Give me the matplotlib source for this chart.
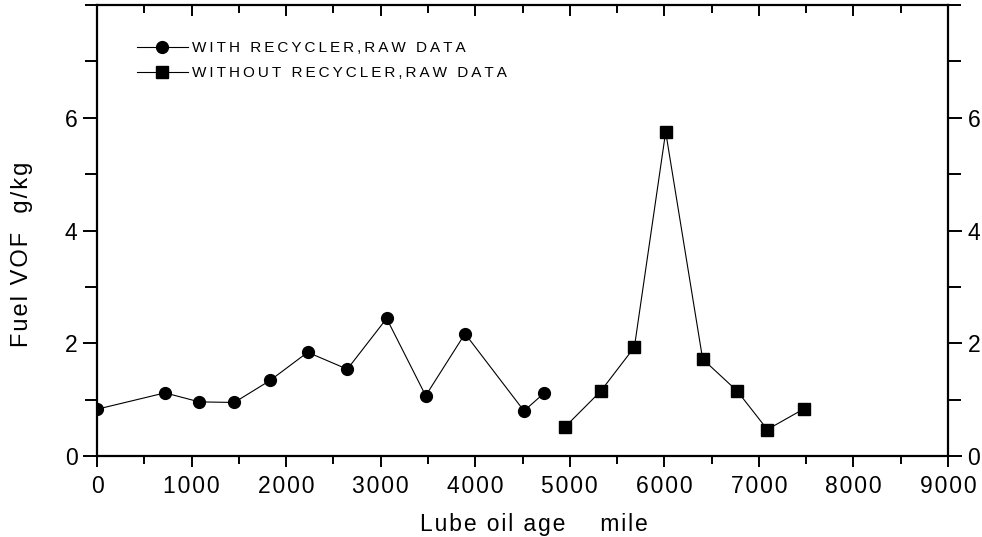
import matplotlib
matplotlib.use("Agg")
import matplotlib.pyplot as plt
from matplotlib.ticker import MultipleLocator, FuncFormatter

plt.rcParams['font.family'] = ['Liberation Sans', 'DejaVu Sans']

with_x = [0, 719, 1082, 1452, 1830, 2228, 2647, 3063, 3476, 3892, 4516, 4731]
with_y = [0.83, 1.12, 0.96, 0.95, 1.34, 1.84, 1.54, 2.44, 1.07, 2.17, 0.80, 1.12]
without_x = [4946, 5327, 5683, 6014, 6405, 6772, 7089, 7480]
without_y = [0.51, 1.15, 1.93, 5.75, 1.72, 1.15, 0.47, 0.84]
with_label = "WITH RECYCLER,RAW DATA"
without_label = "WITHOUT RECYCLER,RAW DATA"
x_ticks = [0, 1000, 2000, 3000, 4000, 5000, 6000, 7000, 8000, 9000]
y_ticks = [0, 2, 4, 6]
x_title = "Lube oil age    mile"
y_title = "Fuel VOF  g/kg"

HAIR = "\u200a"
THIN = "\u2009"


def spaced(s, sp):
    return sp.join(s)


fig = plt.figure(figsize=(9.82, 5.37), dpi=100)
ax = fig.add_axes([0.0988, 0.1508, 0.9654 - 0.0988, 0.9907 - 0.1508])

ax.plot(with_x, with_y, color='black', lw=0.8, marker='o', ms=8.5,
        markerfacecolor='black', markeredgecolor='black',
        label=spaced(with_label, THIN))
ax.plot(without_x, without_y, color='black', lw=0.8, marker='s', ms=8,
        markerfacecolor='black', markeredgecolor='black',
        label=spaced(without_label, THIN))

ax.set_xlim(0, 9000)
ax.set_ylim(0, 8)
ax.set_xticks(x_ticks)
ax.set_yticks(y_ticks)
ax.xaxis.set_major_formatter(FuncFormatter(lambda v, p: spaced(f"{int(round(v))}", HAIR)))
ax.yaxis.set_major_formatter(FuncFormatter(lambda v, p: f"{int(round(v))}"))
ax.xaxis.set_minor_locator(MultipleLocator(500))
ax.yaxis.set_minor_locator(MultipleLocator(1))

for s in ax.spines.values():
    s.set_linewidth(1.6)

ax.tick_params(axis='x', which='both', direction='out', top=True, bottom=True,
               labelsize=16.5, width=1.4, pad=6)
ax.tick_params(axis='x', which='major', length=8)
ax.tick_params(axis='x', which='minor', length=6)
ax.tick_params(axis='y', which='both', direction='out', left=True, right=True,
               labelleft=True, labelright=True, labelsize=16.5, width=1.4, pad=4)
ax.tick_params(axis='y', which='major', length=10)
ax.tick_params(axis='y', which='minor', length=9)

# top ticks point inward
for t in ax.xaxis.get_major_ticks() + ax.xaxis.get_minor_ticks():
    t.tick2line.set_marker(3)

ax.set_xlabel(spaced(x_title, HAIR), fontsize=16.5)
ax.xaxis.set_label_coords(0.5135, -0.126)
ax.xaxis.label.set_va('top')
ax.set_ylabel(spaced(y_title, HAIR), fontsize=17)
ax.yaxis.set_label_coords(-0.075, 0.448)

leg = ax.legend(loc='upper left', bbox_to_anchor=(0.04, 0.934), frameon=False,
                fontsize=11, handlelength=3.3, handletextpad=0.3,
                labelspacing=0.75, borderaxespad=0)

fig.savefig("out.png", dpi=100)
